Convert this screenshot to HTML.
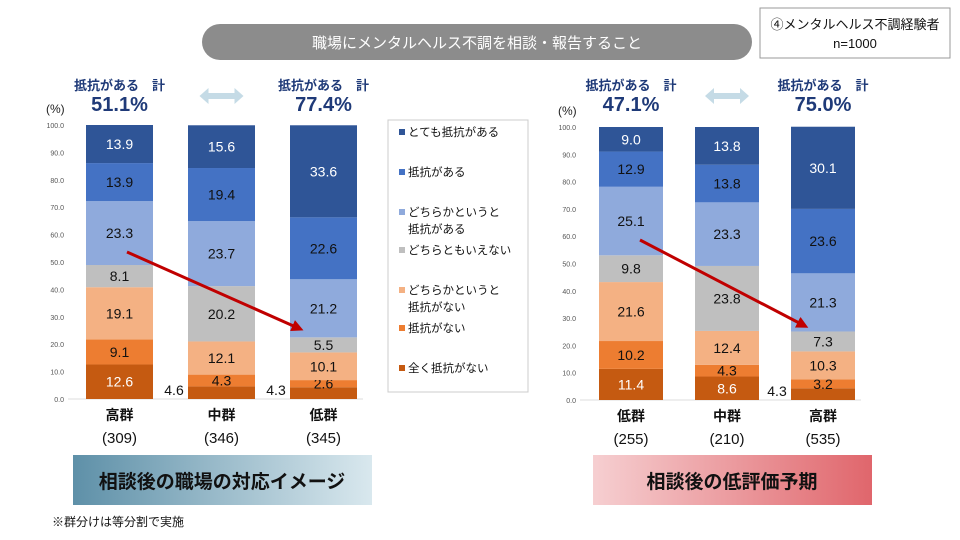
<!DOCTYPE html>
<html><head><meta charset="utf-8">
<style>
body{margin:0;width:960px;height:540px;background:#fff;overflow:hidden;font-family:"Liberation Sans","Noto Sans CJK JP",sans-serif;}
svg{position:absolute;left:0;top:0}
</style></head>
<body>
<svg id="c" width="960" height="540" font-family="Liberation Sans, Noto Sans CJK JP, sans-serif">
<rect x="760" y="8" width="190" height="50" fill="#fff" stroke="#999"/>
<text x="855" y="29" font-size="13" text-anchor="middle" fill="#111">④メンタルヘルス不調経験者</text>
<text x="855" y="48" font-size="13" text-anchor="middle" fill="#111">n=1000</text>
<rect x="202" y="24" width="550" height="36" rx="18" fill="#8c8c8c"/>
<text x="477" y="48" font-size="15" text-anchor="middle" fill="#fff">職場にメンタルヘルス不調を相談・報告すること</text>
<rect x="388" y="120" width="140" height="272" fill="#fff" stroke="#ccc"/>
<defs>
<linearGradient id="gl" x1="0" x2="1"><stop offset="0" stop-color="#5e90a8"/><stop offset="1" stop-color="#d9e8ee"/></linearGradient>
<linearGradient id="gr" x1="0" x2="1"><stop offset="0" stop-color="#f6cfd1"/><stop offset="1" stop-color="#e0666c"/></linearGradient>
<marker id="ah" markerWidth="4" markerHeight="4" refX="2" refY="2" orient="auto"><path d="M0,0L4,2L0,4Z" fill="#c00000"/></marker>
</defs>
<rect x="73" y="455" width="299" height="50" fill="url(#gl)"/>
<text x="222" y="488" font-size="19" font-weight="bold" text-anchor="middle" fill="#111">相談後の職場の対応イメージ</text>
<rect x="593" y="455" width="279" height="50" fill="url(#gr)"/>
<text x="732" y="488" font-size="19" font-weight="bold" text-anchor="middle" fill="#111">相談後の低評価予期</text>
<text x="52" y="526" font-size="12" fill="#111">※群分けは等分割で実施</text>
</svg>
<script>
const series = ["とても抵抗がある","抵抗がある","どちらかというと|抵抗がある","どちらともいえない","どちらかというと|抵抗がない","抵抗がない","全く抵抗がない"];
const colors = ["#2f5597","#4472c4","#8faadc","#bfbfbf","#f4b183","#ed7d31","#c55a11"];
const leftCats = ["高群","中群","低群"];
const leftN = ["(309)","(346)","(345)"];
const leftVals = [[13.9,13.9,23.3,8.1,19.1,9.1,12.6],[15.6,19.4,23.7,20.2,12.1,4.3,4.6],[33.6,22.6,21.2,5.5,10.1,2.6,4.3]];
const leftTotals = ["51.1%","77.4%"];
const rightCats = ["低群","中群","高群"];
const rightN = ["(255)","(210)","(535)"];
const rightVals = [[9.0,12.9,25.1,9.8,21.6,10.2,11.4],[13.8,13.8,23.3,23.8,12.4,4.3,8.6],[30.1,23.6,21.3,7.3,10.3,3.2,4.3]];
const rightTotals = ["47.1%","75.0%"];
const ticks = [0,10,20,30,40,50,60,70,80,90,100];
const NS="http://www.w3.org/2000/svg";
const svg=document.getElementById('c');
function mk(t,a,txt){const e=document.createElementNS(NS,t);for(const k in a)e.setAttribute(k,a[k]);if(txt!==undefined)e.textContent=txt;svg.appendChild(e);return e;}
function panel(p,cats,ns,vals,totals,cfg){
  const y=v=>cfg.y0-(cfg.y0-cfg.y100)*v/100;
  ticks.forEach(t=>{const e=mk('text',{x:cfg.tx,y:y(t)+3,'font-size':7,'text-anchor':'end',fill:'#555'},t.toFixed(1));
    
    });
  const yl=mk('text',{x:cfg.tx-18,y:y(100)-12,'font-size':12,fill:'#222'},'(%)');
  
  
  const ax=mk('line',{x1:cfg.tx+4,x2:cfg.bx[2]+cfg.bw+6,y1:y(0),y2:y(0),stroke:'#ddd'});
  
  
  cats.forEach((c,i)=>{
    const x=cfg.bx[i];let cum=0;
    for(let s=6;s>=0;s--){const v=vals[i][s];
      const r=mk('rect',{x:x,y:y(cum+v),width:cfg.bw,height:y(cum)-y(cum+v),fill:colors[s]});
      
      
      const outside=(s===6&&v<5);
      const lx=outside?x-14:x+cfg.bw/2;
      const ly=outside?y(0)-4:(y(cum)+y(cum+v))/2+5;
      const tc=(s<=1||s===6||s===5&&false)?'#fff':'#111';
      const lt=mk('text',{x:lx,y:ly,'font-size':14,'text-anchor':'middle',fill:outside?'#111':(s===0||s===6?'#fff':(s===1?'#111':'#111'))},v.toFixed(1));
      if(s===1&&cfg.whiteBlue)lt.setAttribute('fill','#111');
      
      
      cum+=v;}
    const cl=mk('text',{x:x+cfg.bw/2,y:cfg.y0+21,'font-size':14,'font-weight':'bold','text-anchor':'middle',fill:'#111'},c);
    
    
    const nl=mk('text',{x:x+cfg.bw/2,y:cfg.y0+44,'font-size':15,'text-anchor':'middle',fill:'#111'},ns[i]);
    
    
  });
  [0,2].forEach((bi,k)=>{const cx=cfg.bx[bi]+cfg.bw/2;
    const a=mk('text',{x:cx,y:90,'font-size':13,'font-weight':'bold','text-anchor':'middle',fill:'#1f3a78'},'抵抗がある　計');
    
    
    const b=mk('text',{x:cx,y:111,'font-size':20,'font-weight':'bold','text-anchor':'middle',fill:'#1f3a78'},totals[k]);
    
    });
  const mx=cfg.bx[1]+cfg.bw/2;
  const dar=mk('path',{d:`M${mx-22},96 l9,-8 v5 h26 v-5 l9,8 l-9,8 v-5 h-26 v5 z`,fill:'#c5dbe6'});
  
  
  const ar=mk('line',{x1:cfg.a[0],y1:cfg.a[1],x2:cfg.a[2],y2:cfg.a[3],stroke:'#c00000','stroke-width':3,'marker-end':'url(#ah)'});
  
  
}
panel('left',leftCats,leftN,leftVals,leftTotals,{y0:399,y100:125,tx:64,bx:[86,188,290],bw:67,a:[127,252,298,328]});
panel('right',rightCats,rightN,rightVals,rightTotals,{y0:400,y100:127,tx:576,bx:[599,695,791],bw:64,a:[640,240,803,325]});
series.forEach((s,i)=>{const ly=[134,174,214,252,292,330,370][i];
  const r=mk('rect',{x:399,y:ly-5,width:6,height:6,fill:colors[i]});
  
  
  s.split('|').forEach((ln,j)=>{const t=mk('text',{x:408,y:ly+2+j*17,'font-size':11.5,fill:'#111'},ln);
    
    });
});
</script>
</body></html>
